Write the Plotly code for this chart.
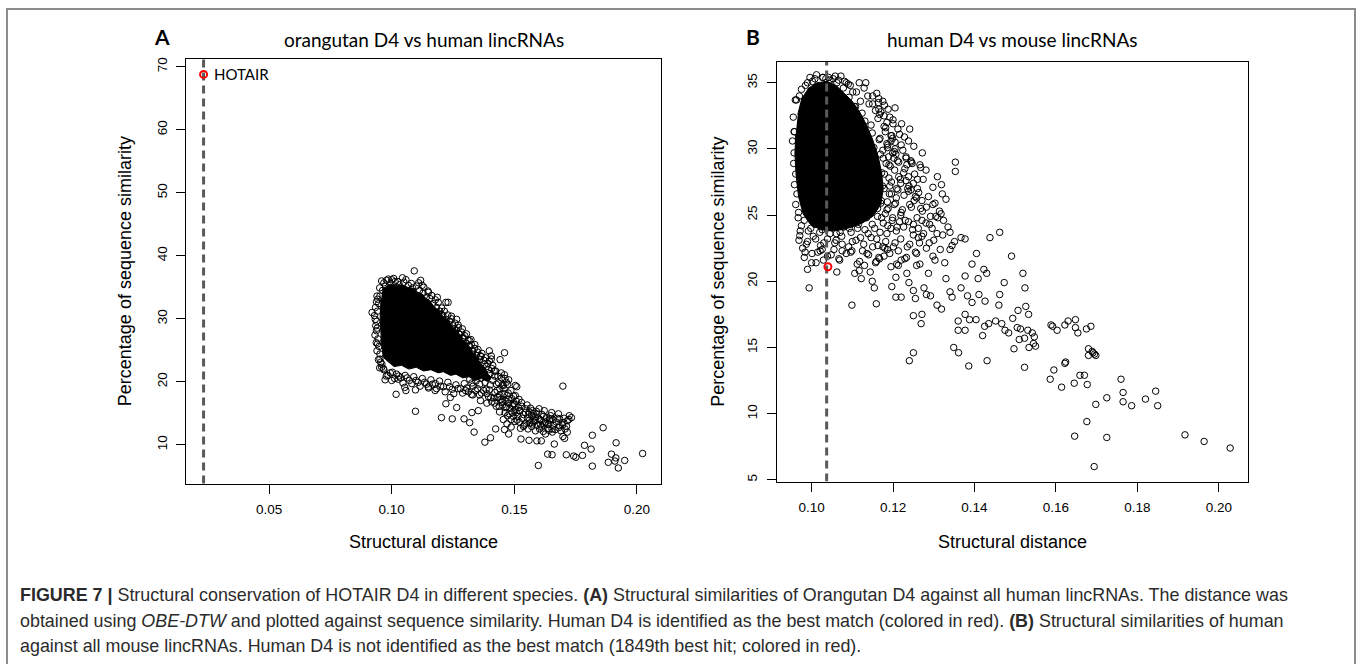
import plotly.graph_objects as go

W, H = 1358, 664

# ---------------- Panel A data (orangutan D4 vs human lincRNAs) ----------------
# saturated (fully overlapping) core of the point cloud
a_core_x = [0.0962, 0.0980, 0.0995, 0.1018, 0.1040, 0.1065, 0.1090, 0.1105, 0.1122, 0.1140,
            0.1155, 0.1172, 0.1190, 0.1210, 0.1230, 0.1248, 0.1270, 0.1292, 0.1310, 0.1330,
            0.1347, 0.1362, 0.1378, 0.1392, 0.1405, 0.1390, 0.1365, 0.1340, 0.1315, 0.1290,
            0.1262, 0.1240, 0.1210, 0.1190, 0.1160, 0.1130, 0.1100, 0.1070, 0.1040, 0.1010,
            0.0985, 0.0968, 0.0960, 0.0956, 0.0955, 0.0953, 0.0956]
a_core_y = [34.6, 35.2, 35.5, 35.2, 35.4, 35.0, 34.8, 34.2, 34.0, 33.2,
            32.9, 31.9, 31.4, 30.3, 29.8, 28.7, 27.9, 26.6, 25.9, 24.7,
            24.0, 22.9, 22.3, 21.2, 20.6, 20.1, 20.5, 20.2, 20.8, 20.6,
            21.2, 21.0, 21.6, 21.4, 21.9, 21.7, 22.3, 22.0, 22.6, 22.4,
            23.2, 23.8, 25.5, 27.0, 28.5, 30.5, 32.8]

a_x = [0.0920, 0.0938, 0.0959, 0.0986, 0.1000, 0.1044, 0.1092, 0.1118, 0.1124, 0.1221,
       0.1265, 0.1362, 0.1406, 0.1406, 0.1424, 0.1504, 0.1510, 0.1698, 0.1504, 0.1495,
       0.1521, 0.1574, 0.1592, 0.1610, 0.1574, 0.1645, 0.1638, 0.1680, 0.1698, 0.1716,
       0.1724, 0.1733, 0.1707, 0.1716, 0.1654, 0.1627, 0.1610, 0.1592, 0.1663, 0.1636,
       0.1654, 0.1598, 0.1698, 0.1705, 0.1712, 0.1742, 0.1751, 0.1778, 0.1786, 0.1813,
       0.1818, 0.1818, 0.1862, 0.1883, 0.1896, 0.1910, 0.1914, 0.1915, 0.1924, 0.1950,
       0.2023, 0.1380, 0.1403, 0.1336, 0.1424, 0.1460, 0.1477, 0.1527, 0.1560, 0.1203,
       0.1247, 0.1295, 0.1327, 0.1353, 0.1265, 0.1318, 0.1097, 0.1018, 0.1058, 0.1097,
       0.1239, 0.1221, 0.1177, 0.1150, 0.1301, 0.1330, 0.1362, 0.1388, 0.1433, 0.1451,
       0.1468, 0.1477, 0.1451, 0.1477, 0.1460, 0.1442, 0.1460, 0.1398, 0.1318, 0.1292,
       0.1274, 0.1256, 0.1203, 0.1230, 0.1186, 0.1150, 0.0988, 0.0943, 0.0933, 0.0938,
       0.0942, 0.0952, 0.0959, 0.0973, 0.1000, 0.1027, 0.1053,
       0.1380, 0.1395, 0.1412, 0.1371, 0.1390, 0.1420, 0.1436, 0.1448, 0.1402, 0.1385,
       0.1430, 0.1458, 0.1467, 0.1475, 0.1441, 0.1416, 0.1490, 0.1463, 0.1500, 0.1482,
       0.1452, 0.1517, 0.1529, 0.1508, 0.1537, 0.1546, 0.1560, 0.1553, 0.1571, 0.1583,
       0.1565, 0.1590, 0.1598, 0.1607, 0.1619, 0.1612, 0.1628, 0.1636, 0.1644, 0.1652,
       0.1659, 0.1667, 0.1675, 0.1683, 0.1690, 0.1540, 0.1525, 0.1511, 0.1496, 0.1479,
       0.1470, 0.1487, 0.1455, 0.1440, 0.1426, 0.1408, 0.1395, 0.1366, 0.1350, 0.1332,
       0.1313, 0.1296, 0.1280, 0.1262, 0.1247, 0.1229, 0.1211, 0.1195, 0.1178, 0.1160,
       0.1142, 0.1125, 0.1108, 0.1090, 0.1072, 0.1055, 0.1037, 0.1020, 0.1003, 0.0985,
       0.0968, 0.0960, 0.0952, 0.0948, 0.0944, 0.0941, 0.0939, 0.0942, 0.0947, 0.0952,
       0.0963, 0.0975, 0.0996, 0.1014, 0.1031, 0.1050, 0.1068, 0.1085, 0.1101, 0.1114,
       0.1128, 0.1142, 0.1156, 0.1169, 0.1183, 0.1196, 0.1208, 0.1222, 0.1236, 0.1249,
       0.1263, 0.1277, 0.1290, 0.1304, 0.1318, 0.1331, 0.1345, 0.1358, 0.1244, 0.1271,
       0.1288, 0.1305, 0.1323, 0.1339, 0.1352, 0.1368, 0.1383, 0.1398,
       0.1372, 0.1386, 0.1401, 0.1418, 0.1433, 0.1447, 0.1462, 0.1455, 0.1441, 0.1427,
       0.1412, 0.1398, 0.1381, 0.1366, 0.1359, 0.1344, 0.1327, 0.1318, 0.1473, 0.1486,
       0.1471, 0.1459, 0.1445, 0.1433, 0.1421, 0.1497, 0.1508, 0.1494, 0.1478, 0.1463,
       0.1450, 0.1519, 0.1531, 0.1522, 0.1504, 0.1491, 0.1515, 0.1532, 0.1545, 0.1552,
       0.1566, 0.1558, 0.1577, 0.1586, 0.1579, 0.1562, 0.1548, 0.1593, 0.1604, 0.1613,
       0.1601, 0.1622, 0.1631, 0.1623, 0.1641, 0.1648, 0.1657, 0.1640, 0.1655, 0.1671,
       0.1685, 0.1681, 0.1697, 0.1703, 0.1713, 0.1722, 0.1618, 0.1603, 0.1586, 0.1571,
       0.1556, 0.1537, 0.1520, 0.1502, 0.1487, 0.1472, 0.1462, 0.1438, 0.1420, 0.1404,
       0.1389, 0.1375, 0.1358, 0.1341, 0.1325, 0.1306, 0.1289, 0.1270, 0.1253, 0.1236,
       0.1218, 0.1200, 0.1183, 0.1166, 0.1150, 0.1134, 0.1116, 0.1099, 0.1082, 0.1063,
       0.1046, 0.1029, 0.1012, 0.0994, 0.0978, 0.0966, 0.0955,
       0.1110, 0.1131, 0.1148, 0.1163, 0.1178, 0.1190, 0.1204, 0.1215, 0.1229, 0.1243,
       0.1258, 0.1272, 0.1284, 0.1298, 0.1311, 0.1325, 0.1338, 0.1350, 0.1364, 0.1376,
       0.1392, 0.1408, 0.0934, 0.0930, 0.0935, 0.0932, 0.0937, 0.0940, 0.0946, 0.0951,
       0.0940, 0.0951, 0.0968, 0.0979, 0.1008, 0.1025, 0.1058, 0.1080]
a_y = [31.0, 32.7, 36.0, 36.3, 36.2, 36.5, 37.6, 36.1, 35.3, 32.6,
       29.9, 24.1, 24.1, 23.6, 21.7, 19.4, 19.2, 19.3, 17.8, 16.5,
       15.4, 15.4, 14.9, 13.8, 13.3, 14.1, 13.2, 14.9, 13.5, 13.8,
       14.6, 14.3, 12.5, 12.0, 12.5, 11.7, 10.6, 10.6, 10.1, 8.5,
       8.4, 6.7, 11.3, 11.0, 8.4, 8.2, 8.0, 8.3, 9.9, 9.3,
       11.5, 6.6, 12.7, 7.2, 8.5, 7.4, 7.9, 10.3, 6.3, 7.5,
       8.6, 10.4, 11.1, 12.0, 12.5, 12.4, 11.7, 10.9, 10.7, 14.3,
       14.1, 14.1, 15.1, 15.4, 15.9, 13.5, 15.3, 18.0, 18.6, 18.7,
       17.5, 16.5, 18.6, 19.2, 18.6, 17.9, 17.0, 16.6, 17.5, 16.9,
       16.0, 17.2, 19.5, 20.3, 21.1, 23.5, 24.6, 24.9, 26.5, 27.0,
       27.6, 28.4, 30.7, 32.6, 33.4, 34.2, 34.4, 33.1, 29.9, 28.1,
       26.0, 23.6, 22.3, 20.3, 20.2, 20.4, 19.1,
       22.8, 21.9, 22.6, 21.4, 20.6, 20.9, 19.8, 20.6, 19.5, 18.8,
       18.6, 18.9, 19.9, 18.2, 17.9, 17.4, 17.3, 17.0, 16.4, 15.8,
       16.3, 15.9, 16.7, 15.1, 14.8, 15.7, 15.2, 14.2, 14.6, 13.9,
       13.5, 15.3, 14.2, 13.2, 14.5, 12.8, 13.6, 12.6, 13.9, 15.1,
       13.1, 12.4, 14.2, 13.0, 12.2, 13.1, 12.6, 13.9, 14.5, 14.9,
       13.3, 12.8, 14.0, 15.2, 16.1, 16.8, 17.6, 18.2, 18.9, 19.3,
       18.4, 19.7, 18.9, 19.5, 18.8, 19.9, 19.2, 20.1, 19.7, 20.3,
       19.6, 20.5, 19.9, 20.8, 20.2, 21.0, 20.6, 21.2, 21.5, 21.0,
       21.9, 22.8, 24.4, 25.6, 26.8, 28.5, 29.6, 31.2, 32.4, 33.6,
       34.5, 35.2, 35.6, 35.9, 35.4, 35.8, 35.3, 34.9, 35.2, 34.5,
       34.1, 33.5, 33.2, 32.4, 31.8, 31.2, 30.5, 29.9, 29.6, 28.9,
       28.2, 27.5, 26.9, 26.1, 25.6, 24.8, 24.2, 23.5, 30.4, 29.0,
       28.4, 27.6, 26.7, 25.9, 25.1, 24.5, 23.8, 23.3,
       21.8, 22.4, 21.3, 21.7, 20.9, 21.4, 20.5, 19.4, 18.9, 19.6,
       20.2, 18.7, 19.9, 20.6, 19.6, 20.1, 19.8, 20.4, 19.6, 18.6,
       17.8, 18.1, 17.2, 17.6, 18.3, 17.7, 16.9, 16.2, 16.6, 15.9,
       16.7, 17.2, 16.1, 15.4, 15.6, 15.1, 14.5, 14.2, 15.1, 16.3,
       15.8, 14.8, 15.0, 14.4, 13.6, 13.9, 13.4, 13.1, 14.0, 14.8,
       15.7, 15.4, 14.3, 13.3, 13.3, 14.6, 14.0, 12.3, 12.0, 13.6,
       14.1, 12.7, 13.1, 14.2, 12.9, 14.0, 12.1, 12.5, 12.2, 12.9,
       12.5, 12.9, 13.6, 13.7, 14.0, 14.6, 15.1, 16.1, 16.6, 17.5,
       18.1, 18.6, 17.9, 18.6, 18.0, 19.0, 18.2, 18.9, 18.1, 19.2,
       18.4, 19.3, 18.9, 19.6, 19.0, 19.9, 19.3, 20.2, 19.7, 20.6,
       19.8, 20.9, 20.5, 21.4, 20.9, 22.1, 23.1,
       35.7, 35.0, 34.4, 33.7, 33.0, 32.6, 31.7, 31.2, 30.6, 30.0,
       29.3, 28.6, 27.9, 27.3, 26.6, 25.9, 25.3, 24.7, 24.0, 23.4,
       22.9, 22.1, 31.8, 30.5, 28.9, 27.4, 26.2, 24.9, 23.5, 22.2,
       33.6, 34.9, 35.7, 36.1, 36.4, 35.9, 36.2, 35.6]

a_hot_x = [0.0233]   # HOTAIR (human D4) - best match
a_hot_y = [68.8]

# ---------------- Panel B data (human D4 vs mouse lincRNAs) ----------------
b_core_x = [0.0966, 0.0976, 0.0993, 0.1013, 0.1038, 0.1060, 0.1080, 0.1100, 0.1118, 0.1135,
            0.1150, 0.1163, 0.1172, 0.1176, 0.1170, 0.1150, 0.1125, 0.1100, 0.1075, 0.1050,
            0.1022, 0.0997, 0.0979, 0.0968, 0.0962, 0.0959, 0.0961]
b_core_y = [32.6, 33.8, 34.6, 35.0, 35.1, 34.8, 34.2, 33.6, 32.8, 31.8,
            30.7, 29.5, 28.2, 27.0, 25.8, 24.9, 24.4, 24.1, 23.9, 23.8,
            23.9, 24.3, 25.1, 26.4, 28.0, 29.6, 31.1]

b_x = [0.0958, 0.0957, 0.0961, 0.0964, 0.0968, 0.0960, 0.0975, 0.0990, 0.1008, 0.1028,
       0.1045, 0.1062, 0.1078, 0.1092, 0.1105, 0.1118, 0.1130, 0.1142, 0.1151, 0.1158,
       0.1162, 0.1160, 0.1152, 0.1135, 0.1115, 0.1093, 0.1070, 0.1045, 0.1020, 0.0998,
       0.0982, 0.0972,
       0.1168, 0.1175, 0.1183, 0.1172, 0.1190, 0.1178, 0.1196, 0.1170, 0.1185, 0.1203,
       0.1212, 0.1220, 0.1198, 0.1176, 0.1155, 0.1139, 0.1120, 0.1160, 0.1185, 0.1210,
       0.1230, 0.1245, 0.1238, 0.1226, 0.1214, 0.1205, 0.1195, 0.1185, 0.1170, 0.1150,
       0.1138, 0.1120, 0.1110, 0.1095, 0.1250, 0.1265, 0.1235, 0.1205, 0.1180, 0.1150,
       0.1125, 0.1100, 0.1075, 0.1055, 0.1030, 0.1010, 0.0990, 0.0978, 0.1015, 0.1060,
       0.1085, 0.1140, 0.1165, 0.1192, 0.1220, 0.1255, 0.1275, 0.1290, 0.1282, 0.1300,
       0.1310, 0.1262, 0.1272, 0.1258, 0.1250, 0.1238, 0.1245, 0.1232, 0.1220, 0.1212,
       0.1200, 0.1188, 0.1175, 0.1160,
       0.1027, 0.1053, 0.1072, 0.1085, 0.1133, 0.1165, 0.1165, 0.1167, 0.1205, 0.1200,
       0.1195, 0.1205, 0.1186, 0.1207, 0.1202, 0.1232, 0.1244, 0.1234, 0.1266, 0.1268,
       0.1218, 0.1260, 0.1239, 0.1260, 0.1298, 0.1319, 0.1321, 0.1353, 0.1353, 0.1255,
       0.1271, 0.1282, 0.1303, 0.1314, 0.1292, 0.1271, 0.1250, 0.1324, 0.1335, 0.1340,
       0.1308, 0.1351, 0.1367, 0.1377, 0.1438, 0.1462, 0.0963, 0.0957,
       0.0971, 0.0984, 0.1000, 0.1011, 0.0990, 0.0994, 0.1021, 0.1026, 0.1039, 0.1062,
       0.1069, 0.1075, 0.1099, 0.1099, 0.1106, 0.1112, 0.1117, 0.1122, 0.1130, 0.1144,
       0.1149, 0.1154, 0.1159, 0.1159, 0.1167, 0.1175, 0.1186, 0.1195, 0.1197, 0.1207,
       0.1207, 0.1220, 0.1213, 0.1213, 0.1229, 0.1234, 0.1239, 0.1250, 0.1250, 0.1255,
       0.1258, 0.1266, 0.1269, 0.1271, 0.1240, 0.1250, 0.1276, 0.1282, 0.1287, 0.1292,
       0.1303, 0.1308, 0.1319, 0.1330, 0.1340, 0.1340, 0.1345, 0.1349, 0.1360, 0.1360,
       0.1361, 0.1367, 0.1377, 0.1377, 0.1377, 0.1383, 0.1386, 0.1388, 0.1394, 0.1394,
       0.1404, 0.1405, 0.1409, 0.1411, 0.1420, 0.1423, 0.1425, 0.1426, 0.1430, 0.1431,
       0.1435, 0.1452, 0.1460, 0.1462, 0.1467, 0.1473, 0.1475, 0.1484, 0.1491, 0.1494,
       0.1497, 0.1505, 0.1507, 0.1510, 0.1513, 0.1519, 0.1523, 0.1523, 0.1524, 0.1526,
       0.1531, 0.1533, 0.1534, 0.1542, 0.1545, 0.1547, 0.1550, 0.1586, 0.1588, 0.1592,
       0.1595, 0.1603, 0.1614, 0.1622, 0.1624, 0.1622, 0.1630, 0.1646, 0.1645, 0.1648,
       0.1648, 0.1654, 0.1659, 0.1670, 0.1675, 0.1676, 0.1677, 0.1680, 0.1680, 0.1686,
       0.1689, 0.1691, 0.1694, 0.1695, 0.1698, 0.1698, 0.1725, 0.1725, 0.1760, 0.1765,
       0.1765, 0.1786, 0.1820, 0.1845, 0.1850, 0.1917, 0.1964, 0.2028,
       0.1108, 0.1124, 0.1141, 0.1157, 0.1179, 0.1131, 0.1146, 0.1163, 0.1178, 0.1192,
       0.1221, 0.1149, 0.1166, 0.1181, 0.1199, 0.1216, 0.1238, 0.1153, 0.1169, 0.1187,
       0.1203, 0.1224, 0.1251, 0.1272, 0.1159, 0.1176, 0.1193, 0.1211, 0.1229, 0.1247,
       0.1281, 0.1161, 0.1179, 0.1196, 0.1214, 0.1232, 0.1253, 0.1274, 0.1309, 0.1158,
       0.1174, 0.1191, 0.1209, 0.1227, 0.1244, 0.1263, 0.1287, 0.1330, 0.1154, 0.1171,
       0.1188, 0.1206, 0.1223, 0.1241, 0.1268, 0.1298, 0.1318, 0.1121, 0.1140, 0.1162,
       0.1181, 0.1199, 0.1219, 0.1238, 0.1259, 0.1281, 0.1305, 0.0975, 0.0992, 0.1008,
       0.1026, 0.1044, 0.1061, 0.1079, 0.1097, 0.1113, 0.1131, 0.1149, 0.1168, 0.1187,
       0.1208, 0.1226, 0.1248, 0.1271, 0.1296, 0.1322, 0.0969, 0.0987, 0.1004, 0.1022,
       0.1039, 0.1057, 0.1074, 0.1091, 0.1109, 0.1128, 0.1146, 0.1163, 0.1182, 0.1201,
       0.1219, 0.1241, 0.1262, 0.1289, 0.1316, 0.1345, 0.0982, 0.1001, 0.1029, 0.1048,
       0.1067, 0.1096, 0.1118, 0.1136, 0.1157, 0.1178, 0.1209, 0.1233, 0.1258, 0.1298,
       0.1327, 0.0970, 0.0985, 0.1002, 0.1035, 0.1058, 0.1081, 0.0955, 0.0953, 0.0956,
       0.0958, 0.0961, 0.0967, 0.0996, 0.1012, 0.1042, 0.1066, 0.1090, 0.1101,
       0.1182, 0.1197, 0.1189, 0.1204, 0.1192, 0.1208, 0.1186, 0.1219, 0.1228, 0.1241,
       0.1236, 0.1252, 0.1216, 0.1195, 0.1172, 0.1162, 0.1190, 0.1199, 0.1185, 0.1178,
       0.1164, 0.1150, 0.1129, 0.1117]
b_y = [31.3, 29.7, 28.1, 26.6, 25.2, 33.7, 34.5, 35.0, 35.3, 35.4,
       35.2, 35.0, 34.6, 33.9, 33.2, 32.3, 31.5, 30.6, 29.6, 28.5,
       27.4, 26.3, 25.4, 24.8, 24.3, 24.0, 23.7, 23.6, 23.7, 24.0,
       24.6, 23.8,
       30.8, 29.9, 28.9, 28.2, 27.8, 27.0, 26.6, 25.9, 25.4, 25.8,
       26.9, 25.2, 24.6, 24.4, 24.0, 23.6, 23.3, 23.2, 23.6, 24.1,
       24.6, 25.6, 26.8, 28.2, 29.0, 30.0, 31.0, 32.0, 32.8, 33.4,
       34.0, 33.6, 34.3, 34.8, 23.5, 22.9, 22.6, 22.9, 22.5, 22.6,
       22.3, 23.0, 22.8, 22.4, 22.9, 23.2, 23.0, 22.5, 22.2, 23.1,
       22.1, 22.0, 21.8, 22.1, 21.6, 22.2, 23.6, 24.3, 22.5, 23.1,
       24.8, 24.0, 25.3, 26.3, 27.4, 27.9, 29.0, 29.4, 30.3, 31.5,
       32.2, 33.0, 33.6, 34.2,
       35.4, 35.3, 35.5, 35.0, 35.0, 33.8, 33.0, 32.6, 33.1, 31.9,
       30.6, 30.5, 30.1, 29.6, 29.3, 29.3, 29.1, 28.8, 28.8, 28.6,
       27.7, 27.7, 27.2, 27.0, 27.1, 27.3, 26.6, 29.0, 28.3, 26.4,
       26.1, 25.6, 25.9, 25.3, 24.9, 24.6, 24.3, 24.6, 24.1, 23.7,
       23.6, 23.0, 23.3, 23.2, 23.3, 23.7, 33.7, 31.3,
       23.45, 22.2, 21.4, 21.4, 20.9, 19.5, 22.3, 22.4, 21.9, 20.7,
       21.6, 22.3, 18.2, 22.3, 20.6, 21.3, 20.8, 20.2, 21.2, 20.7,
       20.0, 19.5, 18.3, 21.5, 21.7, 22.6, 22.4, 21.1, 19.6, 20.3,
       18.8, 18.8, 21.2, 22.3, 21.7, 20.6, 19.9, 19.3, 17.4, 18.7,
       22.1, 21.3, 16.8, 17.5, 14.0, 14.6, 19.5, 19.0, 20.6, 18.9,
       21.6, 18.2, 17.9, 20.2, 19.2, 22.4, 18.8, 15.0, 17.0, 16.3,
       14.6, 19.5, 20.4, 17.5, 16.3, 18.9, 13.6, 17.1, 21.3, 18.4,
       17.1, 22.1, 20.2, 19.0, 15.9, 20.9, 16.6, 18.5, 20.6, 14.0,
       16.8, 17.0, 18.2, 19.0, 16.8, 19.9, 16.3, 16.1, 21.9, 17.2,
       14.9, 16.5, 17.8, 15.6, 16.4, 20.6, 13.5, 15.7, 19.5, 18.1,
       16.3, 17.5, 15.0, 16.1, 15.3, 15.8, 15.1, 12.6, 16.7, 16.6,
       13.3, 16.3, 12.0, 13.8, 13.9, 16.7, 17.0, 8.3, 12.3, 17.1,
       16.5, 16.1, 12.9, 12.9, 16.4, 9.4, 12.2, 14.9, 14.4, 16.6,
       14.7, 14.6, 6.0, 14.5, 14.4, 10.7, 11.2, 8.2, 12.6, 11.6,
       10.9, 10.6, 11.1, 11.7, 10.6, 8.4, 7.9, 7.4,
       33.2, 32.7, 33.4, 32.9, 33.3, 32.1, 31.8, 32.3, 31.7, 32.4,
       31.9, 31.2, 30.7, 31.3, 30.8, 31.1, 30.6, 30.1, 29.6, 30.3,
       29.8, 29.9, 30.2, 29.7, 28.9, 29.3, 28.7, 29.1, 28.5, 28.9,
       28.4, 27.8, 28.1, 27.5, 27.9, 27.6, 28.1, 27.7, 27.9, 26.8,
       27.2, 26.6, 27.0, 26.5, 26.9, 26.7, 26.4, 26.2, 25.7, 26.1,
       25.5, 25.9, 25.4, 25.8, 25.5, 25.8, 25.1, 24.7, 25.2, 24.9,
       25.1, 24.8, 25.0, 24.5, 24.8, 24.4, 24.9, 24.2, 23.8, 24.3,
       23.9, 24.2, 23.6, 24.1, 23.7, 24.0, 23.9, 24.3, 23.7, 24.2,
       23.8, 24.1, 23.9, 23.4, 24.0, 23.5, 23.1, 22.8, 23.4, 22.7,
       23.2, 22.9, 23.4, 22.6, 23.1, 22.8, 23.3, 22.7, 23.0, 22.6,
       23.2, 22.8, 23.3, 22.9, 22.4, 22.7, 21.8, 22.1, 21.6, 22.0,
       21.7, 22.2, 21.5, 22.1, 21.4, 21.9, 21.3, 21.8, 21.2, 21.9,
       21.4, 34.0, 34.8, 35.1, 35.3, 35.5, 35.1, 32.4, 30.6, 28.9,
       27.3, 25.8, 24.8, 35.4, 35.6, 35.4, 35.2, 34.9, 34.3,
       31.6, 31.0, 29.4, 28.4, 27.2, 26.3, 26.0, 27.4, 30.9, 31.5,
       27.0, 26.1, 24.5, 24.0, 24.8, 25.5, 28.8, 29.7, 30.4, 32.5,
       33.5, 34.0, 34.6, 35.0]

b_d4_x = [0.1040]   # human D4 (1849th best hit)
b_d4_y = [21.1]
b_vline = 0.1037

# axis ticks
a_xticks = [0.05, 0.10, 0.15, 0.20]
a_yticks = [10, 20, 30, 40, 50, 60, 70]
b_xticks = [0.10, 0.12, 0.14, 0.16, 0.18, 0.20]
b_yticks = [5, 10, 15, 20, 25, 30, 35]

# ---------------- figure ----------------
def px(x):
    return x / W

def py(y):
    return 1 - y / H

fig = go.Figure()
mk = dict(symbol="circle-open", size=6.5, color="black", line=dict(width=1, color="black"))

fig.add_trace(go.Scatter(x=a_core_x, y=a_core_y, mode="lines", fill="toself",
                         fillcolor="black", line=dict(color="black", width=1),
                         xaxis="x", yaxis="y", hoverinfo="skip"))
fig.add_trace(go.Scatter(x=a_x, y=a_y, mode="markers", marker=mk, xaxis="x", yaxis="y"))
fig.add_trace(go.Scatter(x=a_hot_x, y=a_hot_y, mode="markers",
                         marker=dict(symbol="circle-open", size=7, color="red",
                                     line=dict(width=2, color="red")),
                         xaxis="x", yaxis="y"))

fig.add_trace(go.Scatter(x=b_core_x, y=b_core_y, mode="lines", fill="toself",
                         fillcolor="black", line=dict(color="black", width=1),
                         xaxis="x2", yaxis="y2", hoverinfo="skip"))
fig.add_trace(go.Scatter(x=b_x, y=b_y, mode="markers", marker=mk, xaxis="x2", yaxis="y2"))
fig.add_trace(go.Scatter(x=[b_vline, b_vline], y=[4.87, 36.58], mode="lines",
                         line=dict(color="#5a5a5a", width=3, dash="8px,5px"),
                         xaxis="x2", yaxis="y2", hoverinfo="skip"))
fig.add_trace(go.Scatter(x=b_d4_x, y=b_d4_y, mode="markers",
                         marker=dict(symbol="circle-open", size=7, color="red",
                                     line=dict(width=2, color="red")),
                         xaxis="x2", yaxis="y2"))

tickfont = dict(family="Liberation Sans, Arial, sans-serif", size=13.5, color="black")
axcommon = dict(showgrid=False, zeroline=False, showline=True, linecolor="black",
                linewidth=1, mirror=True, ticks="outside", ticklen=9, tickwidth=1,
                tickcolor="black", tickfont=tickfont)

fig.update_layout(
    width=W, height=H, margin=dict(l=0, r=0, t=0, b=0),
    paper_bgcolor="white", plot_bgcolor="white", showlegend=False,
    xaxis=dict(domain=[px(186), px(661)], range=[0.01614, 0.2098],
               tickvals=a_xticks, ticktext=["%.2f" % v for v in a_xticks],
               anchor="y", ticklabelstandoff=4, **axcommon),
    yaxis=dict(domain=[py(483), py(57)], range=[3.83, 71.27],
               tickvals=a_yticks, tickangle=-90, anchor="x", ticklabelstandoff=4, **axcommon),
    xaxis2=dict(domain=[px(776.7), px(1248)], range=[0.09143, 0.20718],
                tickvals=b_xticks, ticktext=["%.2f" % v for v in b_xticks],
                anchor="y2", ticklabelstandoff=4, **axcommon),
    yaxis2=dict(domain=[py(481), py(60)], range=[4.87, 36.58],
                tickvals=b_yticks, tickangle=-90, anchor="x2", ticklabelstandoff=4, **axcommon),
)

# dashed vertical line in panel A (HOTAIR distance)
fig.add_shape(type="line", xref="x", yref="y domain", x0=a_hot_x[0], x1=a_hot_x[0],
              y0=0, y1=1, line=dict(color="#5a5a5a", width=3, dash="8px,5px"), layer="below")

# outer frame
fig.add_shape(type="rect", xref="paper", yref="paper", x0=px(7), x1=px(1355),
              y0=-0.05, y1=py(7), line=dict(color="#8c8c8c", width=2))

gill = "Lato, 'Open Sans', sans-serif"
helv = "Liberation Sans, Arial, sans-serif"
ann = []
ann.append(dict(text="<b>A</b>", x=px(162), y=py(35), font=dict(family=gill, size=21, color="black")))
ann.append(dict(text="orangutan D4 vs human lincRNAs", x=px(423.5), y=py(38),
                font=dict(family=gill, size=19, color="black")))
ann.append(dict(text="<b>B</b>", x=px(753), y=py(35), font=dict(family=gill, size=21, color="black")))
ann.append(dict(text="human D4 vs mouse lincRNAs", x=px(1012), y=py(38),
                font=dict(family=gill, size=19, color="black")))
ann.append(dict(text="Structural distance", x=px(423.5), y=py(542), font=dict(family=helv, size=18, color="black")))
ann.append(dict(text="Structural distance", x=px(1012), y=py(542), font=dict(family=helv, size=18, color="black")))
ann.append(dict(text="Percentage of sequence similarity", x=px(125), y=py(270), textangle=-90,
                font=dict(family=helv, size=18, color="black")))
ann.append(dict(text="Percentage of sequence similarity", x=px(718), y=py(270.5), textangle=-90,
                font=dict(family=helv, size=18, color="black")))
cap = [
    "<b>FIGURE 7 |</b> Structural conservation of HOTAIR D4 in different species. <b>(A)</b> Structural similarities of Orangutan D4 against all human lincRNAs. The distance was",
    "obtained using <i>OBE-DTW</i> and plotted against sequence similarity. Human D4 is identified as the best match (colored in red). <b>(B)</b> Structural similarities of human",
    "against all mouse lincRNAs. Human D4 is not identified as the best match (1849th best hit; colored in red).",
]
for t, yy in zip(cap, [595, 621, 646]):
    ann.append(dict(text=t, x=px(18), y=py(yy), xanchor="left",
                    font=dict(family=helv, size=17.9, color="#2b2b2b")))
for a in ann:
    a.setdefault("xanchor", "center")
    a.update(xref="paper", yref="paper", yanchor="middle", showarrow=False)
    fig.add_annotation(**a)

fig.add_annotation(text="HOTAIR", x=a_hot_x[0], y=a_hot_y[0], xref="x", yref="y",
                   xanchor="left", yanchor="middle", xshift=8, showarrow=False,
                   font=dict(family=gill, size=15, color="black"))

fig.write_html("out.html")
